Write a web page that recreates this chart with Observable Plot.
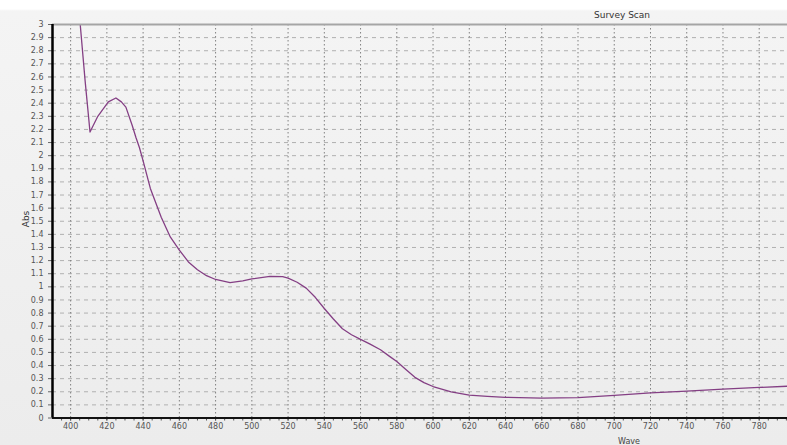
<!DOCTYPE html>
<html>
<head>
<meta charset="utf-8">
<script src="https://cdn.jsdelivr.net/npm/d3@7"></script>
<script src="https://cdn.jsdelivr.net/npm/@observablehq/plot@0.6"></script>
<style>
  html, body { margin: 0; padding: 0; }
  body { width: 787px; height: 445px; overflow: hidden;
    background: linear-gradient(to bottom, #ffffff 0px, #ffffff 9px, #f4f4f4 11px, #ececec 445px);
    font-family: "DejaVu Sans", sans-serif; }
  #wrap { position: relative; width: 787px; height: 445px; overflow: hidden; }
  #chart svg { max-width: none !important; display: block; }
  .lbl { position: absolute; color: #444; white-space: nowrap; font-family: "DejaVu Sans", sans-serif; }
</style>
</head>
<body>
<div id="wrap">
  <div id="chart"></div>
  <div class="lbl" id="title" style="left:622px; top:15px; transform:translate(-50%,-50%); font-size:9px; color:#333;">Survey Scan</div>
  <div class="lbl" id="xlab" style="left:629px; top:441px; transform:translate(-50%,-50%); font-size:8px;">Wave</div>
  <div class="lbl" id="ylab" style="left:26px; top:219px; transform:translate(-50%,-50%) rotate(-90deg); font-size:9px; color:#333;">Abs</div>
</div>
<script>
// Wavelength (nm) and absorbance
const wave = [405.3, 408, 410.7, 415, 420.8, 425, 428, 430.5, 434, 436, 438, 440, 444, 450, 455, 460, 465, 470, 475, 480, 488, 495, 500, 510, 517, 520, 525, 530, 535, 540, 545, 550, 555, 560, 565, 571, 576, 580, 585, 590, 595, 600, 610, 620, 630, 640, 660, 680, 700, 720, 740, 760, 780, 800, 808];
const absorbance = [3.0, 2.57, 2.18, 2.3, 2.41, 2.44, 2.41, 2.37, 2.23, 2.14, 2.06, 1.96, 1.75, 1.53, 1.38, 1.28, 1.19, 1.13, 1.085, 1.056, 1.032, 1.045, 1.06, 1.08, 1.078, 1.066, 1.035, 0.99, 0.92, 0.835, 0.755, 0.68, 0.635, 0.60, 0.565, 0.52, 0.47, 0.43, 0.37, 0.31, 0.27, 0.24, 0.20, 0.175, 0.165, 0.158, 0.152, 0.155, 0.172, 0.192, 0.205, 0.22, 0.233, 0.245, 0.25];

const xTicks = [400, 420, 440, 460, 480, 500, 520, 540, 560, 580, 600, 620, 640, 660, 680, 700, 720, 740, 760, 780, 800];
const xMinorTicks = [395, 400, 405, 410, 415, 420, 425, 430, 435, 440, 445, 450, 455, 460, 465, 470, 475, 480, 485, 490, 495, 500, 505, 510, 515, 520, 525, 530, 535, 540, 545, 550, 555, 560, 565, 570, 575, 580, 585, 590, 595, 600, 605, 610, 615, 620, 625, 630, 635, 640, 645, 650, 655, 660, 665, 670, 675, 680, 685, 690, 695, 700, 705, 710, 715, 720, 725, 730, 735, 740, 745, 750, 755, 760, 765, 770, 775, 780, 785, 790, 795, 800, 805];
const yTicks = [0, 0.1, 0.2, 0.3, 0.4, 0.5, 0.6, 0.7, 0.8, 0.9, 1, 1.1, 1.2, 1.3, 1.4, 1.5, 1.6, 1.7, 1.8, 1.9, 2, 2.1, 2.2, 2.3, 2.4, 2.5, 2.6, 2.7, 2.8, 2.9, 3];
const yTickLabels = ["0", "0.1", "0.2", "0.3", "0.4", "0.5", "0.6", "0.7", "0.8", "0.9", "1", "1.1", "1.2", "1.3", "1.4", "1.5", "1.6", "1.7", "1.8", "1.9", "2", "2.1", "2.2", "2.3", "2.4", "2.5", "2.6", "2.7", "2.8", "2.9", "3"];

const data = wave.map((w, i) => ({wave: w, abs: absorbance[i]}));
const yFmt = d => yTickLabels[yTicks.findIndex(t => Math.abs(t - d) < 1e-9)];

const chart = Plot.plot({
  width: 810,
  height: 445,
  marginLeft: 52,
  marginRight: 0,
  marginTop: 24,
  marginBottom: 27.5,
  style: {background: "transparent", fontFamily: "DejaVu Sans, sans-serif", overflow: "visible", maxWidth: "none"},
  x: {domain: [390, 808.3]},
  y: {domain: [0, 3]},
  marks: [
    Plot.gridY(yTicks, {stroke: "#b0b0b0", strokeOpacity: 1, strokeDasharray: "4,4", strokeWidth: 1}),
    Plot.gridX(xTicks, {stroke: "#808080", strokeOpacity: 1, strokeDasharray: "1.5,2.5", strokeWidth: 1}),
    Plot.axisY(yTicks, {tickSize: 4, tickPadding: 5, tickFormat: yFmt, fontSize: 8, fill: "#555", stroke: "#666", label: null}),
    Plot.axisX(xMinorTicks, {tickSize: 3, tickFormat: () => "", stroke: "#555", label: null}),
    Plot.axisX(xTicks, {tickSize: 3, tickPadding: 2, fontSize: 8, fill: "#555", stroke: "#555", label: null}),
    Plot.line(data, {x: "wave", y: "abs", stroke: "#843f84", strokeWidth: 1.3, clip: true}),
    Plot.ruleY([3], {stroke: "#a5a5a5", strokeWidth: 2}),
    Plot.ruleY([0], {stroke: "#111", strokeWidth: 2}),
    Plot.ruleX([390], {stroke: "#000", strokeWidth: 2.5})
  ]
});
document.getElementById("chart").appendChild(chart);
</script>
</body>
</html>
